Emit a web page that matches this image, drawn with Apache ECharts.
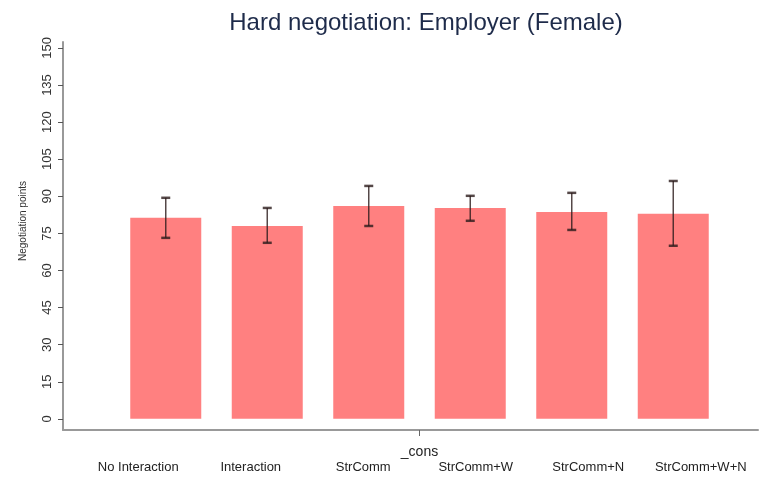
<!DOCTYPE html>
<html>
<head>
<meta charset="utf-8">
<script src="https://cdn.jsdelivr.net/npm/echarts@6/dist/echarts.min.js"></script>
<style>
html,body{margin:0;padding:0;background:#fff;}
#chart{width:760px;height:479px;}
</style>
</head>
<body>
<div id="chart"></div>
<script>
const titleText = 'Hard negotiation: Employer (Female)';
const categories = ['No Interaction', 'Interaction', 'StrComm', 'StrComm+W', 'StrComm+N', 'StrComm+W+N'];
const means = [81.3, 78.0, 86.1, 85.3, 83.7, 82.9];
const lower = [73.2, 71.2, 78.0, 80.1, 76.4, 70.0];
const upper = [89.4, 85.3, 94.2, 90.2, 91.4, 96.2];
const yTicks = [0, 15, 30, 45, 60, 75, 90, 105, 120, 135, 150];
const groupLabel = ['_cons'];
const yName = 'Negotiation points';

const errData = categories.map((c, i) => [i, lower[i], upper[i]]);
const chart = echarts.init(document.getElementById('chart'));
const yMin = -4.5, yMax = 152.4;
const font = 'Liberation Sans, Arial';

chart.setOption({
  animation: false,
  backgroundColor: '#fff',
  title: {
    text: titleText, left: 421, textAlign: 'center', top: 6,
    textStyle: {fontFamily: font, fontSize: 24, fontWeight: 'normal', color: '#1e2b4a'}
  },
  grid: [
    {left: 115, right: 36, top: 42, bottom: 49},
    {left: 63, right: 2, top: 42, bottom: 49},
    {left: 82, right: 3, top: 42, bottom: 49}
  ],
  xAxis: [
    {type: 'category', gridIndex: 0, data: categories, boundaryGap: true, show: false},
    {type: 'category', gridIndex: 0, data: groupLabel, position: 'bottom', boundaryGap: true,
     axisLine: {show: false},
     axisTick: {show: true, alignWithLabel: true, length: 6, lineStyle: {color: '#666', width: 1}},
     axisLabel: {margin: 15, fontSize: 14, color: '#222', fontFamily: font}},
    {type: 'value', gridIndex: 1, min: 0, max: 1,
     axisLine: {show: true, onZero: false, lineStyle: {color: '#999', width: 2}},
     axisTick: {show: false}, axisLabel: {show: false}, splitLine: {show: false}},
    {type: 'category', gridIndex: 2, data: categories, boundaryGap: true,
     axisLine: {show: false}, axisTick: {show: false},
     axisLabel: {margin: 31, fontSize: 13, color: '#222', fontFamily: font, interval: 0}}
  ],
  yAxis: [
    {type: 'value', gridIndex: 0, min: yMin, max: yMax, show: false, splitLine: {show: false}},
    {type: 'value', gridIndex: 1, min: yMin, max: yMax,
     name: yName, nameLocation: 'middle', nameGap: 35, nameRotate: 90,
     nameTextStyle: {fontSize: 10, color: '#333', fontFamily: font, padding: [0, 0, 0, 30]},
     axisLine: {show: true, onZero: false, lineStyle: {color: '#999', width: 2}},
     axisTick: {show: true, customValues: yTicks, length: 5, lineStyle: {color: '#555'}},
     axisLabel: {customValues: yTicks, rotate: 90, margin: 9, fontSize: 13, color: '#333', fontFamily: font},
     splitLine: {show: false}},
    {type: 'value', gridIndex: 2, min: yMin, max: yMax, show: false, splitLine: {show: false}}
  ],
  series: [
    {type: 'bar', xAxisIndex: 0, yAxisIndex: 0, data: means, barWidth: 71, z: 2,
     itemStyle: {color: '#ff8080'}},
    {type: 'custom', xAxisIndex: 0, yAxisIndex: 0, data: errData, z: 10,
     encode: {x: 0, y: [1, 2]},
     renderItem: function (params, api) {
       const lo = api.coord([api.value(0), api.value(1)]);
       const hi = api.coord([api.value(0), api.value(2)]);
       const hw = 4.5;
       const st = {stroke: '#2a1a1a', lineWidth: 1.5, opacity: 0.8};
       return {type: 'group', children: [
         {type: 'line', shape: {x1: lo[0], y1: lo[1], x2: hi[0], y2: hi[1]}, style: st},
         {type: 'line', shape: {x1: lo[0] - hw, y1: lo[1], x2: lo[0] + hw, y2: lo[1]}, style: Object.assign({}, st, {lineWidth: 2.5})},
         {type: 'line', shape: {x1: hi[0] - hw, y1: hi[1], x2: hi[0] + hw, y2: hi[1]}, style: Object.assign({}, st, {lineWidth: 2.5})}
       ]};
     }}
  ]
});
</script>
</body>
</html>
